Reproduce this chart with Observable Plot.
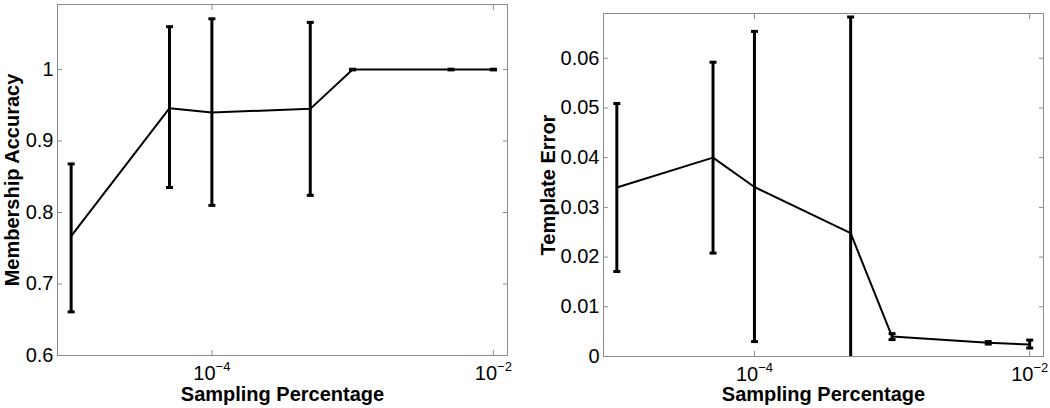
<!DOCTYPE html>
<html>
<head>
<meta charset="utf-8">
<script src="https://cdn.jsdelivr.net/npm/d3@7"></script>
<script src="https://cdn.jsdelivr.net/npm/@observablehq/plot@0.6"></script>
<style>
  body { margin: 0; background: #fff; }
  #wrap { display: flex; width: 1050px; height: 408px; }
  #wrap svg { display: block; }
</style>
</head>
<body>
<div id="wrap"></div>
<script>
// Sampling percentages (x values)
const samplingPct = [1e-5, 5e-5, 1e-4, 5e-4, 1e-3, 5e-3, 1e-2];
// Left panel: Membership Accuracy
const accMean = [0.767, 0.946, 0.940, 0.945, 1.0, 1.0, 1.0];
const accLo   = [0.661, 0.835, 0.810, 0.824, 0.9995, 0.9995, 0.9995];
const accHi   = [0.868, 1.060, 1.071, 1.066, 1.0005, 1.0005, 1.0005];
// Right panel: Template Error
const errMean = [0.0340, 0.0400, 0.0341, 0.0248, 0.0040, 0.00275, 0.0024];
const errLo   = [0.0171, 0.0208, 0.0030, -0.0187, 0.0034, 0.0025, 0.0017];
const errHi   = [0.0509, 0.0592, 0.0654, 0.0683, 0.0046, 0.0030, 0.0033];
// Ticks
const xTicks = [1e-4, 1e-2];
const xTickExp = ["−4", "−2"];
const accTicks = [0.6, 0.7, 0.8, 0.9, 1];
const errTicks = [0, 0.01, 0.02, 0.03, 0.04, 0.05, 0.06];
const xLabel = "Sampling Percentage";
const accLabel = "Membership Accuracy";
const errLabel = "Template Error";

const capSymbol = {
  draw(ctx) { ctx.moveTo(-3.5, 0); ctx.lineTo(3.5, 0); }
};

function panel({mean, lo, hi, yTicks, yDomain, yLabel, margins, yLabelDx, xLabelDy}) {
  const data = samplingPct.map((x, i) => ({x, m: mean[i], lo: lo[i], hi: hi[i]}));
  const gray = "#8a8a8a";
  const svg = Plot.plot({
    width: 525,
    height: 408,
    ...margins,
    style: {fontFamily: "'Liberation Sans', Arial, sans-serif", fontSize: "20px", color: "black", background: "white"},
    x: {type: "log", domain: [8.0e-6, 1.26e-2]},
    y: {domain: yDomain},
    marks: [
      Plot.axisX({ticks: xTicks, tickSize: -5, tickPadding: 15, stroke: gray, fill: "black", label: null, tickFormat: () => "10"}),
      Plot.axisX({anchor: "top", ticks: xTicks, tickSize: -5, stroke: gray, label: null, tickFormat: () => ""}),
      Plot.axisY({ticks: yTicks, tickSize: -5, tickPadding: 9, stroke: gray, fill: "black", label: null, tickFormat: d => String(+d.toFixed(2))}),
      Plot.axisY({anchor: "right", ticks: yTicks, tickSize: -5, stroke: gray, label: null, tickFormat: () => ""}),
      Plot.frame({stroke: gray}),
      Plot.ruleX(data, {x: "x", y1: "lo", y2: "hi", stroke: "black", strokeWidth: 3, clip: true}),
      Plot.dot(data, {x: "x", y: "hi", symbol: capSymbol, stroke: "black", strokeWidth: 3, clip: true}),
      Plot.dot(data, {x: "x", y: "lo", symbol: capSymbol, stroke: "black", strokeWidth: 3, clip: true}),
      Plot.line(data, {x: "x", y: "m", stroke: "black", strokeWidth: 2}),
      Plot.text([yLabel], {frameAnchor: "left", dx: yLabelDx, rotate: -90, textAnchor: "middle", lineAnchor: "middle", fontWeight: "bold", fontSize: 20, fill: "black"}),
      Plot.text([xLabel], {frameAnchor: "bottom", dy: xLabelDy, textAnchor: "middle", lineAnchor: "middle", fontWeight: "bold", fontSize: 20, fill: "black"})
    ]
  });
  // superscript exponents on x tick labels
  const texts = svg.querySelectorAll('g[aria-label="x-axis tick label"] text');
  texts.forEach((t, i) => {
    if (!t.textContent) return;
    const ts = document.createElementNS("http://www.w3.org/2000/svg", "tspan");
    ts.setAttribute("dy", "-9");
    ts.setAttribute("font-size", "13");
    ts.textContent = xTickExp[i];
    t.appendChild(ts);
  });
  return svg;
}

const wrap = document.getElementById("wrap");
wrap.appendChild(panel({
  mean: accMean, lo: accLo, hi: accHi, yTicks: accTicks, yDomain: [0.6, 1.091], yLabel: accLabel,
  margins: {marginLeft: 57, marginRight: 18, marginTop: 4, marginBottom: 53}, yLabelDx: -45, xLabelDy: 39
}));
wrap.appendChild(panel({
  mean: errMean, lo: errLo, hi: errHi, yTicks: errTicks, yDomain: [0, 0.069], yLabel: errLabel,
  margins: {marginLeft: 78, marginRight: 7, marginTop: 13, marginBottom: 52}, yLabelDx: -55, xLabelDy: 38
}));
</script>
</body>
</html>
